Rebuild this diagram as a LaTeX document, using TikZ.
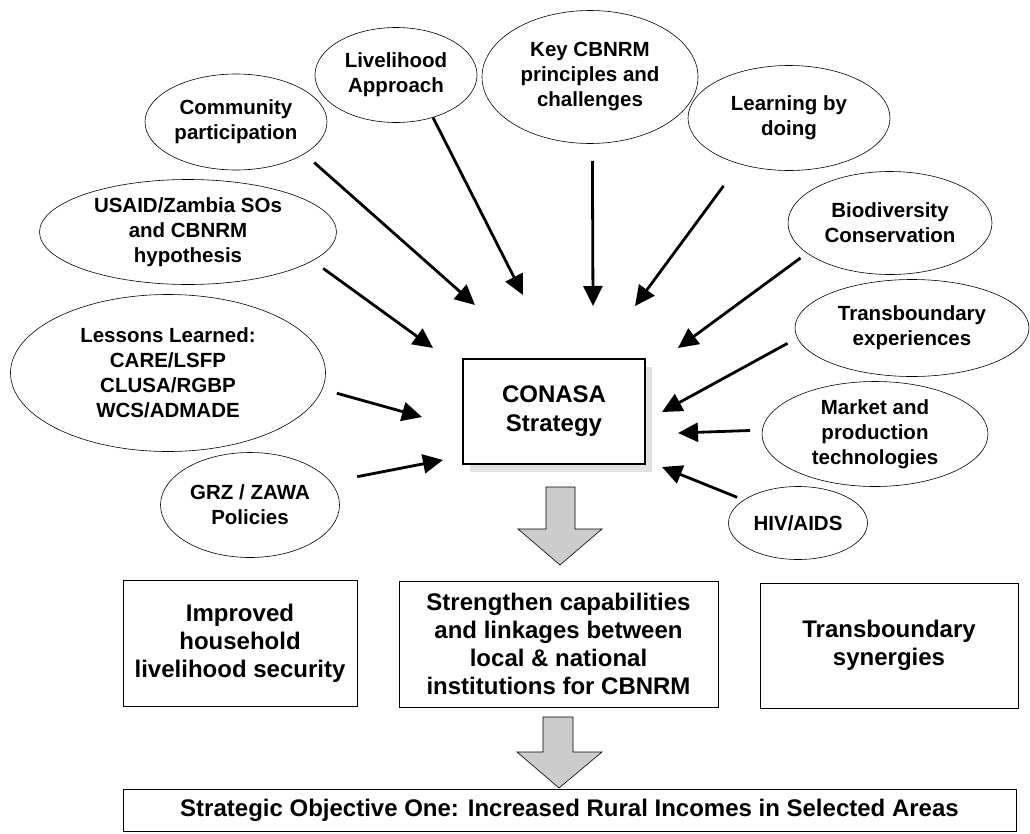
\documentclass[tikz,border=0pt]{standalone}
\usepackage{fontspec}
\setmainfont{Liberation Sans}
\usetikzlibrary{shapes, arrows.meta, shadows}

\begin{document}
\begin{tikzpicture}[x=1pt, y=-1pt,
	idea/.style={draw, ellipse, line width=0.6pt, inner sep=0pt, align=center,
		font=\fontsize{20.5}{25}\selectfont\bfseries},
	outcome/.style={draw, rectangle, line width=0.8pt, inner sep=0pt, align=center,
		font=\fontsize{24}{28}\selectfont\bfseries},
	feed/.style={line width=2.8pt, -{Triangle[length=20pt, width=19pt]}},
	bigarrow/.style={draw, line width=0.6pt, fill=gray!40}]
	\useasboundingbox (0,0) rectangle (1030,833);
	
	%% Strategy
	\node [outcome, line width=2.4pt, fill=white, minimum width=182pt, minimum height=105pt,
	drop shadow={shadow xshift=7pt, shadow yshift=-8pt, fill=gray!45},
	font=\fontsize{24}{29}\selectfont\bfseries] (conasa) at (554,411.5) {CONASA\\Strategy};
	
	%% Inputs
	\node [idea, minimum width=182pt, minimum height=96pt] (cp) at (236,122) {Community\\participation};
	\node [idea, minimum width=162pt, minimum height=95pt] (la) at (396,75) {Livelihood\\Approach};
	\node [idea, minimum width=216pt, minimum height=133pt] (key) at (590,77) {Key CBNRM\\principles and\\challenges};
	\node [idea, minimum width=202pt, minimum height=105pt] (lbd) at (789,118) {Learning by\\doing};
	\node [idea, minimum width=297pt, minimum height=105pt] (usaid) at (188,232) {USAID/Zambia SOs\\and CBNRM\\hypothesis};
	\node [idea, minimum width=315pt, minimum height=157pt] (lessons) at (168,373) {Lessons Learned:\\CARE/LSFP\\CLUSA/RGBP\\WCS/ADMADE};
	\node [idea, minimum width=179pt, minimum height=105pt] (grz) at (250,505) {GRZ / ZAWA\\Policies};
	\node [idea, minimum width=204pt, minimum height=103pt] (bio) at (890,223) {Biodiversity\\Conservation};
	\node [idea, minimum width=234pt, minimum height=97pt] (trans) at (912,328) {Transboundary\\experiences};
	\node [idea, minimum width=226pt, minimum height=105pt] (market) at (875,434) {Market and\\production\\technologies};
	\node [idea, minimum width=139pt, minimum height=73pt] (hiv) at (798,523) {HIV/AIDS};
	
	%% Arrow tips round the strategy box
	\coordinate (cp-tip) at (475,305);
	\coordinate (la-tip) at (523,295);
	\coordinate (key-tip) at (593,306);
	\coordinate (lbd-tip) at (635,306);
	\coordinate (usaid-tip) at (433,348);
	\coordinate (lessons-tip) at (422,417);
	\coordinate (grz-tip) at (443,460);
	\coordinate (bio-tip) at (678,348);
	\coordinate (trans-tip) at (662,412);
	\coordinate (market-tip) at (678,433);
	\coordinate (hiv-tip) at (662,467);
	
	\draw [feed, shorten <=13pt] (cp.-25) -- (cp-tip);
	\draw [feed] (la.-49) -- (la-tip);
	\draw [feed, shorten <=17pt] (key.-88) -- (key-tip);
	\draw [feed, shorten <=27pt] (lbd.223) -- (lbd-tip);
	\draw [feed, shorten <=13pt] (usaid.-13) -- (usaid-tip);
	\draw [feed, shorten <=15pt] (lessons.-6) -- (lessons-tip);
	\draw [feed, shorten <=27pt] (grz.16) -- (grz-tip);
	\draw [feed, shorten <=8pt] (bio.200) -- (bio-tip);
	\draw [feed, shorten <=11pt] (trans.185) -- (trans-tip);
	\draw [feed, shorten <=12pt] (market.178) -- (market-tip);
	\draw [feed, shorten <=7pt] (hiv.157) -- (hiv-tip);
	
	%% Outcomes
	\draw [bigarrow] (546,487) -- (575,487) -- (575,529) -- (602,529) -- (560,565) -- (518,529) -- (546,529) -- cycle;
	
	\node [outcome, minimum width=234pt, minimum height=126pt] (improved) at (240,643) {Improved\\household\\livelihood security};
	\node [outcome, minimum width=319pt, minimum height=126pt] (strengthen) at (558.5,644) {Strengthen capabilities\\and linkages between\\local \& national\\institutions for CBNRM};
	\node [outcome, minimum width=258pt, minimum height=125pt] (synergies) at (889,645.5) {Transboundary\\synergies};
	
	\draw [bigarrow] (543,717) -- (573,717) -- (573,752) -- (602,752) -- (559,788) -- (517,752) -- (543,752) -- cycle;
	
	%% SO1
	\node [outcome, minimum width=893pt, minimum height=42pt] (objective) at (569.5,810) {Strategic Objective One: Increased Rural Incomes in Selected Areas};
\end{tikzpicture}
\end{document}
